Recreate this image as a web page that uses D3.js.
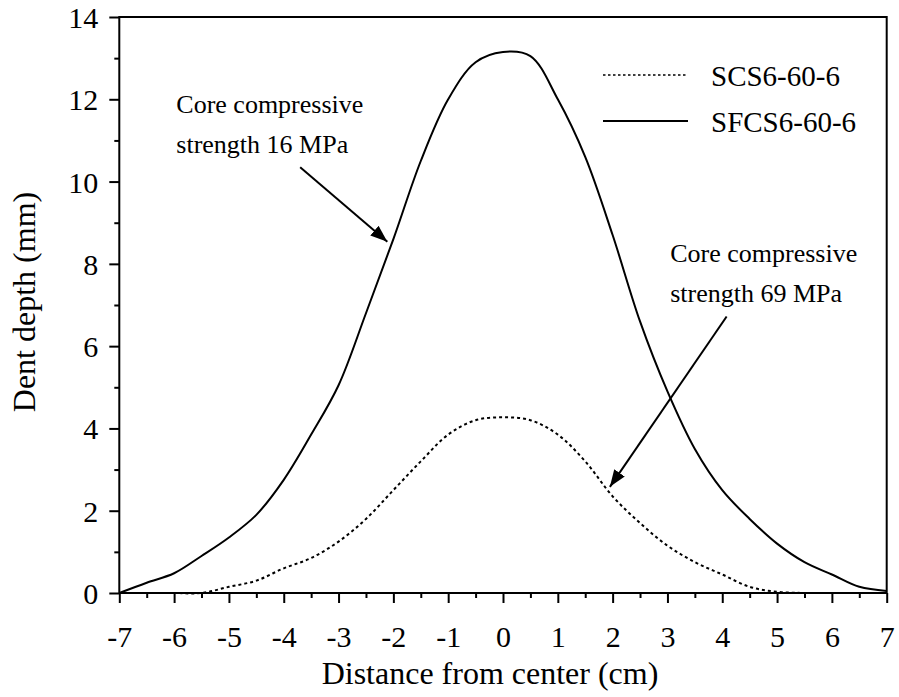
<!DOCTYPE html>
<html>
<head>
<meta charset="utf-8">
<script src="https://cdn.jsdelivr.net/npm/d3@7"></script>
<style>
  html, body { margin: 0; padding: 0; background: #fff; }
  svg { display: block; }
  text { font-family: "Liberation Serif", "Times New Roman", serif; fill: #000; }
</style>
</head>
<body>
<svg id="chart" width="899" height="697"></svg>
<script>
// Measurement positions across the indented face (cm)
const distance = [-7, -6.5, -6, -5.5, -5, -4.5, -4, -3.5, -3, -2.5, -2, -1.5, -1, -0.5,
                  0, 0.5, 1, 1.5, 2, 2.5, 3, 3.5, 4, 4.5, 5, 5.5, 6, 6.5, 7];
// Dent depth of the specimen with the stronger core (mm)
const depthSCS = [0, 0, 0, 0, 0.15, 0.3, 0.6, 0.85, 1.25, 1.8, 2.5, 3.2, 3.85, 4.2,
                  4.27, 4.2, 3.85, 3.2, 2.35, 1.7, 1.15, 0.75, 0.45, 0.15, 0.03, 0, 0, 0, 0];
// Dent depth of the specimen with the weaker core (mm)
const depthSFCS = [0, 0.25, 0.48, 0.9, 1.35, 1.9, 2.75, 3.85, 5.05, 6.8, 8.6, 10.5, 12.0, 12.9,
                   13.15, 13.05, 12.0, 10.6, 8.7, 6.6, 4.9, 3.5, 2.5, 1.8, 1.2, 0.75, 0.45, 0.15, 0.05];
const seriesNames = ["SCS6-60-6", "SFCS6-60-6"];
const xTicks = [-7, -6, -5, -4, -3, -2, -1, 0, 1, 2, 3, 4, 5, 6, 7];
const yTicks = [0, 2, 4, 6, 8, 10, 12, 14];

const svg = d3.select("#chart");
const plotLeft = 119.3, plotRight = 886.7, plotTop = 17, plotBottom = 593;

const x = d3.scaleLinear().domain([-7, 7]).range([plotLeft, plotRight]);
const y = d3.scaleLinear().domain([0, 14]).range([plotBottom, plotTop]);

// Frame
svg.append("rect")
  .attr("x", plotLeft).attr("y", plotTop)
  .attr("width", plotRight - plotLeft).attr("height", plotBottom - plotTop)
  .attr("fill", "none").attr("stroke", "#000").attr("stroke-width", 2);

// Tick labels use a plain hyphen for negatives
const plainFormat = d => String(d);

// Axes with outward ticks
const xAxis = svg.append("g").attr("transform", `translate(0,${plotBottom})`)
  .call(d3.axisBottom(x).tickValues(xTicks).tickSize(10).tickPadding(23).tickFormat(plainFormat));
const xMinor = svg.append("g").attr("transform", `translate(0,${plotBottom})`)
  .call(d3.axisBottom(x).tickValues(d3.range(-6.5, 7, 1)).tickSize(5).tickFormat(""));
const yAxis = svg.append("g").attr("transform", `translate(${plotLeft},0)`)
  .call(d3.axisLeft(y).tickValues(yTicks).tickSize(10).tickPadding(11).tickFormat(plainFormat));
const yMinor = svg.append("g").attr("transform", `translate(${plotLeft},0)`)
  .call(d3.axisLeft(y).tickValues(d3.range(1, 14, 2)).tickSize(5).tickFormat(""));

[xAxis, xMinor, yAxis, yMinor].forEach(g => {
  g.select(".domain").remove();
  g.selectAll("line").attr("stroke", "#000").attr("stroke-width", 2);
  g.selectAll("text").attr("font-size", 30)
    .style("font-family", '"Liberation Serif", "Times New Roman", serif');
});
xAxis.selectAll("text").attr("dy", "0.71em");
yAxis.selectAll("text").attr("dy", "0.35em");

// Axis titles
svg.append("text")
  .attr("x", 490).attr("y", 684)
  .attr("text-anchor", "middle").attr("font-size", 32)
  .text("Distance from center (cm)");
svg.append("text")
  .attr("transform", "translate(35,302) rotate(-90)")
  .attr("text-anchor", "middle").attr("font-size", 32)
  .text("Dent depth (mm)");

// Curves
const line = d3.line()
  .x((d, i) => x(distance[i]))
  .y(d => y(d))
  .curve(d3.curveCatmullRom.alpha(0.5));

svg.append("path").datum(depthSCS)
  .attr("d", line).attr("fill", "none")
  .attr("stroke", "#000").attr("stroke-width", 2).attr("stroke-dasharray", "3,3");
svg.append("path").datum(depthSFCS)
  .attr("d", line).attr("fill", "none")
  .attr("stroke", "#000").attr("stroke-width", 2);

// Legend
const legend = svg.append("g");
[{ y: 75, dash: "2.5,2.5", w: 1.6 }, { y: 121, dash: null, w: 2 }].forEach((s, i) => {
  legend.append("line")
    .attr("x1", 603).attr("x2", 688).attr("y1", s.y).attr("y2", s.y)
    .attr("stroke", "#000").attr("stroke-width", s.w)
    .attr("stroke-dasharray", s.dash);
  legend.append("text")
    .attr("x", 711).attr("y", s.y + 11).attr("font-size", 29)
    .text(seriesNames[i]);
});

// Annotations with arrows
svg.append("defs").append("marker")
  .attr("id", "head")
  .attr("viewBox", "0 0 16 12")
  .attr("refX", 16).attr("refY", 6)
  .attr("markerWidth", 17).attr("markerHeight", 13)
  .attr("markerUnits", "userSpaceOnUse")
  .attr("orient", "auto")
  .append("path").attr("d", "M0,0 L16,6 L0,12 Z").attr("fill", "#000");

const notes = [
  { lines: ["Core compressive", "strength 16 MPa"], tx: -5.96, ty: 11.67,
    from: [-3.70, 10.35], to: [-2.11, 8.54] },
  { lines: ["Core compressive", "strength 69 MPa"], tx: 3.05, ty: 8.05,
    from: [4.08, 6.72], to: [1.95, 2.58] }
];
notes.forEach(n => {
  const t = svg.append("text").attr("x", x(n.tx)).attr("y", y(n.ty)).attr("font-size", 26);
  n.lines.forEach((s, k) => {
    t.append("tspan").attr("x", x(n.tx)).attr("dy", k === 0 ? 0 : 40).text(s);
  });
  svg.append("line")
    .attr("x1", x(n.from[0])).attr("y1", y(n.from[1]))
    .attr("x2", x(n.to[0])).attr("y2", y(n.to[1]))
    .attr("stroke", "#000").attr("stroke-width", 2)
    .attr("marker-end", "url(#head)");
});
</script>
</body>
</html>
